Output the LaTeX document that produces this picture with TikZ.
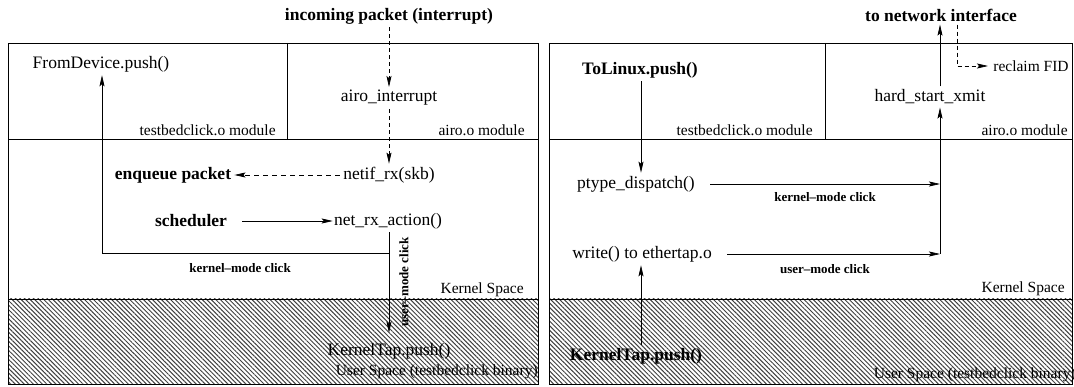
\documentclass[tikz,border=0pt]{standalone}
\usepackage{fontspec}
\setmainfont{Liberation Serif}
\usetikzlibrary{arrows.meta,patterns.meta}

\begin{document}
\begin{tikzpicture}[x=1pt,y=-1pt,line width=.7pt,
		lbl/.style={inner sep=3pt,font=\fontsize{17.5}{20}\selectfont},
		blbl/.style={inner sep=3pt,font=\fontsize{17.5}{20}\selectfont\bfseries},
		tag/.style={inner sep=0pt,font=\fontsize{15.5}{18}\selectfont},
		note/.style={inner sep=0pt,font=\fontsize{13}{15}\selectfont\bfseries},
		arr/.style={-{Stealth[length=11pt,width=5pt,inset=2pt]}},
		dsh/.style={arr,dash pattern=on 5pt off 4pt},
		hatch/.style={pattern={Lines[angle=-45,distance=3.2pt,line width=1pt]},pattern color=black!75}]
	\useasboundingbox (0,0) rectangle (1074,387);
	% the two panels: modules, kernel space, user space
	\fill [hatch] (8,299) rectangle (538,384);
	\fill [hatch] (549,299) rectangle (1072.5,384);
	\draw (8,43) rectangle (538,384);
	\draw (549,43) rectangle (1072.5,384);
	\foreach \y in {139, 299} {
		\draw (8,\y) -- (538,\y);
		\draw (549,\y) -- (1072.5,\y);
	}
	\draw (287,43) -- (287,139);
	\draw (825,43) -- (825,139);
	\node [tag, anchor=east] at (276,130) {testbedclick.o module};
	\node [tag, anchor=east] at (525,130) {airo.o module};
	\node [tag, anchor=east] at (524,290) {Kernel Space};
	\node [tag, anchor=east] at (538,372) {User Space (testbedclick binary)};
	\node [tag, anchor=east] at (813,130) {testbedclick.o module};
	\node [tag, anchor=east] at (1068,130) {airo.o module};
	\node [tag, anchor=east] at (1065,289) {Kernel Space};
	\node [tag, anchor=east] at (1076,375) {User Space (testbedclick binary)};

	% receive path
	\node [blbl] (inc) at (389,16) {incoming packet (interrupt)};
	\node [lbl] (airo) at (389,98) {airo\_interrupt};
	\node [lbl] (netif) at (389,175) {netif\_rx(skb)};
	\node [blbl] (enq) at (173,175) {enqueue packet};
	\node [lbl] (fromdev) at (101,64) {FromDevice.push()};
	\node [blbl] (sched) at (191,221) {scheduler};
	\node [lbl] (netrx) at (388,221) {net\_rx\_action()};
	\node [lbl, inner sep=1pt] (ktapL) at (389,351) {KernelTap.push()};
	\node [note] at (240,268) {kernel--mode click};
	\node [note, rotate=90] at (404,282) {user--mode click};
	\coordinate (kc) at (102,253);
	\draw [dsh, dash pattern=on 4pt off 3pt] (inc) -- (airo);
	\draw [dsh, dash pattern=on 4pt off 3pt] (airo) -- (netif);
	\draw [dsh] (netif) -- (enq);
	\draw [arr] ([xshift=12pt]sched.east) -- ([xshift=2pt]netrx.west);
	\draw [arr] (netrx.south -| ktapL) -- ([yshift=9pt]ktapL.north);
	\draw [arr] (ktapL |- kc) -- (kc) -- (fromdev.south -| kc);

	% send path
	\node [blbl] (tonet) at (941,15) {to network interface};
	\node [lbl] (hsx) at (930,97) {hard\_start\_xmit};
	\node [tag, anchor=west] (reclaim) at (993,66) {reclaim FID};
	\node [blbl] (tolinux) at (640,70) {ToLinux.push()};
	\node [lbl] (ptype) at (636,184) {ptype\_dispatch()};
	\node [lbl] (write) at (642,254) {write() to ethertap.o};
	\node [blbl] (ktapR) at (636,356) {KernelTap.push()};
	\node [note] at (825,197) {kernel--mode click};
	\node [note] at (825,269) {user--mode click};
	\coordinate (xm) at (940,0);
	\coordinate (rc) at (957,66);
	\coordinate (dn) at (641,0);
	\draw [arr] (hsx.north -| xm) -- (tonet.south -| xm);
	\draw [dsh, dash pattern=on 4pt off 3pt] (tonet.south -| rc) -- (rc) -- ([xshift=-5pt]reclaim.west);
	\draw [arr] (tolinux.south -| dn) -- (ptype.north -| dn);
	\draw [arr] ([xshift=12pt]ptype.east) -- (ptype -| xm);
	\draw [arr] ([xshift=12pt]write.east) -- (write -| xm);
	\draw [arr] (write -| xm) -- (hsx.south -| xm);
	\draw [arr] (ktapR.north -| dn) -- (write.south -| dn);
\end{tikzpicture}
\end{document}
